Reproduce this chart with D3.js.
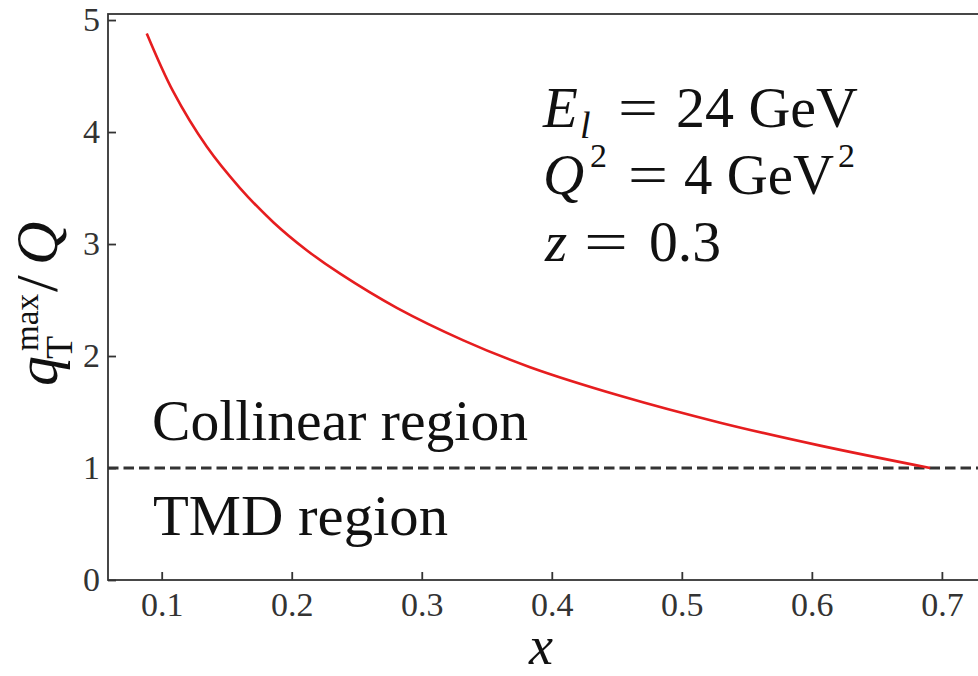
<!DOCTYPE html>
<html lang="en">
<head>
<meta charset="UTF-8">
<title>qT max / Q</title>
<style>
  body { margin: 0; background: #fff; }
  svg { display: block; }
  .tick text { font-family: "Liberation Serif", "DejaVu Serif", serif; font-size: 34px; fill: #333; }
  .tick line { stroke: #333; stroke-width: 1.8; }
  .lbl { font-family: "Liberation Serif", "DejaVu Serif", serif; fill: #111; }
</style>
</head>
<body>
<div id="chart"></div>
<script src="https://cdn.jsdelivr.net/npm/d3@7"></script>
<script>
// curve
const xVals = [0.0885, 0.1089, 0.1346, 0.1602, 0.1858, 0.2115, 0.2372, 0.2808, 0.3320, 0.3833, 0.4525, 0.5295, 0.6064, 0.691];
const yVals = [4.88, 4.36, 3.87, 3.50, 3.195, 2.945, 2.735, 2.43, 2.14, 1.90, 1.645, 1.405, 1.20, 1.00];
const xTicks = [0.1, 0.2, 0.3, 0.4, 0.5, 0.6, 0.7];
const yTicks = [0, 1, 2, 3, 4, 5];
const threshold = 1;

const W = 978, H = 676;
const plotL = 108, plotR = 990, plotT = 14, plotB = 580;

const svg = d3.select("#chart").append("svg")
  .attr("width", W).attr("height", H);

const x = d3.scaleLinear().domain([0.0587, 0.737]).range([plotL, plotR]);
const y = d3.scaleLinear().domain([0, 5.054]).range([plotB, plotT]);

// axes, ticks pointing inward
svg.append("g")
  .attr("transform", `translate(0,${plotB})`)
  .call(d3.axisBottom(x).tickValues(xTicks).tickFormat(d3.format(".1f"))
    .tickSizeInner(-8).tickSizeOuter(0).tickPadding(12))
  .call(g => g.select(".domain").remove());

svg.append("g")
  .attr("transform", `translate(${plotL},0)`)
  .call(d3.axisLeft(y).tickValues(yTicks).tickFormat(d3.format("d"))
    .tickSizeInner(-8).tickSizeOuter(0).tickPadding(8))
  .call(g => g.select(".domain").remove());

svg.selectAll("g[font-family]").attr("font-family", null).attr("font-size", null);

// frame
svg.append("rect")
  .attr("x", plotL).attr("y", plotT)
  .attr("width", plotR - plotL).attr("height", plotB - plotT)
  .attr("fill", "none").attr("stroke", "#333").attr("stroke-width", 1.8);

// threshold line
svg.append("line")
  .attr("x1", plotL).attr("x2", plotR)
  .attr("y1", y(threshold)).attr("y2", y(threshold))
  .attr("stroke", "#333").attr("stroke-width", 2.8)
  .attr("stroke-dasharray", "10.5,5");

// the curve
const pts = xVals.map((v, i) => [v, yVals[i]]);
svg.append("path")
  .datum(pts)
  .attr("fill", "none")
  .attr("stroke", "#e61d1f")
  .attr("stroke-width", 2.6)
  .attr("d", d3.line().x(d => x(d[0])).y(d => y(d[1])).curve(d3.curveCatmullRom.alpha(0.5)));

// region labels
svg.append("text").attr("class", "lbl").attr("x", 152).attr("y", 440)
  .attr("font-size", 57).attr("textLength", 376).attr("lengthAdjust", "spacingAndGlyphs")
  .text("Collinear region");
svg.append("text").attr("class", "lbl").attr("x", 153).attr("y", 535)
  .attr("font-size", 57).attr("textLength", 295).attr("lengthAdjust", "spacingAndGlyphs")
  .text("TMD region");

// annotation block
function piece(g, str, px, py, size, italic, len) {
  const t = g.append("text").attr("class", "lbl")
    .attr("x", px).attr("y", py).attr("font-size", size)
    .attr("font-style", italic ? "italic" : "normal").text(str);
  if (len) t.attr("textLength", len).attr("lengthAdjust", "spacingAndGlyphs");
  return t;
}
const ann = svg.append("g");
piece(ann, "E", 543, 127, 57, true);
piece(ann, "l", 580, 138, 38, true);
piece(ann, "=", 618, 127, 57, false, 40);
piece(ann, "24 GeV", 676, 127, 57, false, 182);
piece(ann, "Q", 543, 194, 57, true);
piece(ann, "2", 590, 167, 34, false);
piece(ann, "=", 628, 194, 57, false, 40);
piece(ann, "4 GeV", 684, 194, 57, false, 150);
piece(ann, "2", 838, 167, 34, false);
piece(ann, "z", 545, 261, 57, true);
piece(ann, "=", 584, 261, 57, false, 44);
piece(ann, "0.3", 649, 261, 57, false, 72);

// x label
svg.append("text").attr("class", "lbl").attr("x", 541).attr("y", 664)
  .attr("text-anchor", "middle").attr("font-size", 54)
  .attr("font-style", "italic").text("x");

// y label: q_T^max / Q, read bottom to top
const yl = svg.append("g").attr("transform", "translate(57,386) rotate(-90)");
piece(yl, "q", 0, 0, 60, true);
piece(yl, "T", 27, 15, 38, false);
piece(yl, "max", 35, -19, 34, false, 57);
piece(yl, "/", 94, 0, 60, false);
piece(yl, "Q", 121, 0, 60, true);
</script>
</body>
</html>
